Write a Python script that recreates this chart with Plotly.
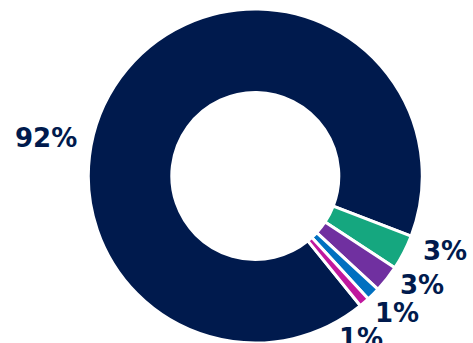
import plotly.graph_objects as go

categories = ["A", "B", "C", "D", "E"]
values = [91.7, 3.4, 2.6, 1.3, 1.0]
colors = ["#001A4D", "#15A77F", "#7030A0", "#0070C0", "#C0189E"]
label_text = [f"{round(v / sum(values) * 100)}%" for v in values]
# label anchor positions (pixels in the 473x343 canvas)
label_px = [(46, 137.5), (444.5, 250.5), (422, 284.5), (397, 312.5), (361, 338)]

W, H = 473, 343
R = 167
cx, cy = 255.3, H - R

fig = go.Figure(go.Pie(
    labels=categories,
    values=values,
    textinfo="none",
    hole=0.5,
    sort=False,
    direction="clockwise",
    rotation=141,
    marker=dict(colors=colors, line=dict(color="white", width=3)),
    domain=dict(x=[(cx - R) / W, (cx + R) / W], y=[0, 2 * R / H]),
    showlegend=False,
    automargin=False,
))

for txt, (px, py) in zip(label_text, label_px):
    fig.add_annotation(
        x=px / W, y=1 - py / H, xref="paper", yref="paper",
        text=f"<b>{txt}</b>", showarrow=False,
        xanchor="center", yanchor="middle",
        font=dict(family="DejaVu Sans", size=26, color="#001A4D"),
    )

fig.update_layout(
    width=W, height=H,
    margin=dict(l=0, r=0, t=0, b=0, autoexpand=False),
    paper_bgcolor="white",
)
fig.write_html("out.html")
